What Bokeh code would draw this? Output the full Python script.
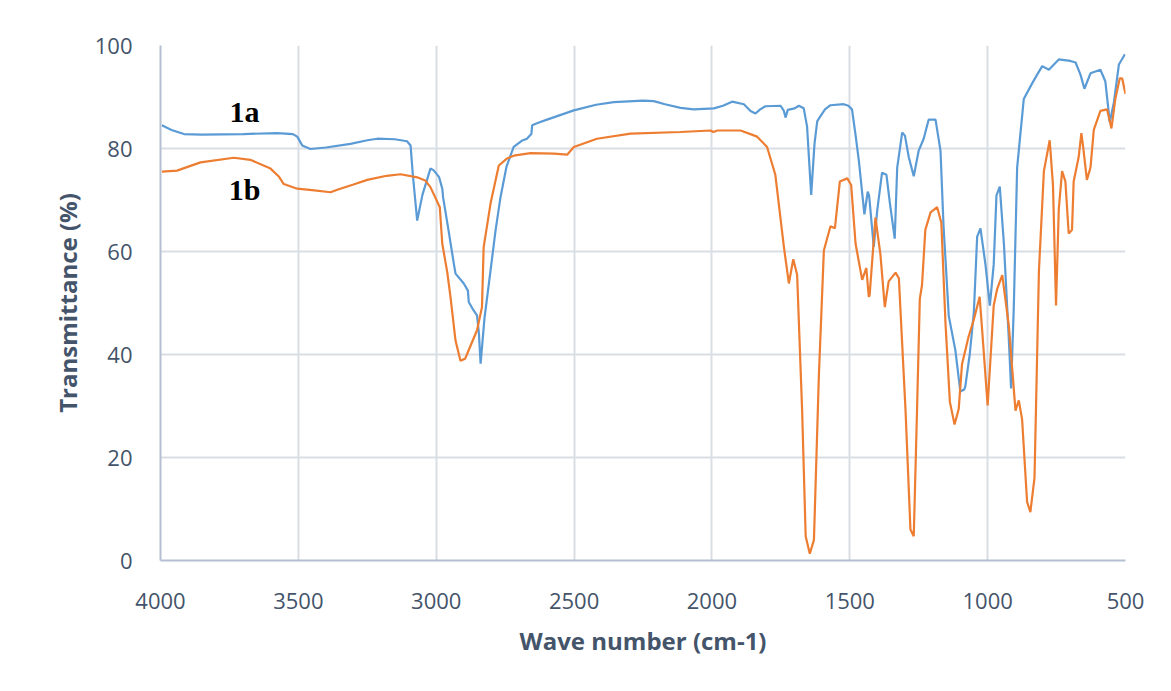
from bokeh.plotting import figure
from bokeh.models import Range1d, FixedTicker, Label
from bokeh.embed import file_html
from bokeh.resources import INLINE

# ---- data ----
wn_1a = [3995, 3960, 3915, 3850, 3700, 3577, 3520, 3504, 3486, 3456, 3400, 3311, 3250, 3214, 3150,
         3106, 3093, 3085, 3069, 3050, 3021, 3010, 2990, 2978, 2975, 2955, 2936, 2930, 2900, 2885,
         2882, 2865, 2852, 2845, 2839, 2825, 2803, 2785, 2767, 2745, 2719, 2690, 2671, 2655, 2652,
         2630, 2598, 2501, 2420, 2356, 2250, 2211, 2170, 2114, 2066, 1993, 1960, 1927, 1884, 1860,
         1842, 1825, 1806, 1751, 1739, 1733, 1725, 1700, 1685, 1667, 1655, 1640, 1628, 1618, 1590,
         1570, 1522, 1505, 1492, 1480, 1467, 1447, 1435, 1430, 1413, 1400, 1383, 1367, 1355, 1337,
         1328, 1310, 1300, 1286, 1268, 1250, 1232, 1214, 1189, 1171, 1160, 1141, 1117, 1099, 1085,
         1081, 1065, 1050, 1038, 1026, 1008, 992, 978, 968, 956, 941, 923, 915, 905, 893,
         869, 840, 821, 802, 778, 742, 700, 681, 663, 649, 627, 591, 573, 557, 542,
         524, 502]
t_1a = [84.5, 83.6, 82.8, 82.7, 82.8, 83.0, 82.8, 82.3, 80.6, 79.9, 80.2, 80.9, 81.6, 81.9, 81.8,
        81.4, 80.6, 75.0, 66.0, 71.0, 76.1, 75.8, 74.5, 72.2, 70.5, 64.0, 57.6, 55.7, 53.8, 52.4,
        50.2, 48.6, 47.6, 44.0, 38.2, 47.0, 56.3, 64.0, 70.5, 76.5, 80.3, 81.5, 81.9, 82.8, 84.5,
        85.0, 85.6, 87.4, 88.5, 89.0, 89.3, 89.2, 88.6, 87.9, 87.6, 87.8, 88.3, 89.1, 88.6, 87.3,
        86.8, 87.6, 88.2, 88.3, 87.3, 86.0, 87.5, 87.8, 88.3, 87.8, 84.3, 71.0, 80.9, 85.3, 87.6,
        88.4, 88.6, 88.3, 87.6, 83.0, 77.6, 67.2, 71.6, 70.9, 60.9, 68.2, 75.3, 74.9, 69.6, 62.5,
        76.3, 83.1, 82.5, 78.3, 74.6, 79.6, 81.9, 85.6, 85.6, 79.6, 65.0, 47.5, 40.8, 32.8, 33.2,
        33.8, 40.0, 48.2, 62.9, 64.5, 57.5, 49.5, 57.5, 70.9, 72.6, 61.5, 42.8, 33.4, 49.5, 76.3,
        89.6, 92.5, 94.3, 96.0, 95.3, 97.3, 97.0, 96.7, 94.3, 91.6, 94.6, 95.3, 93.0, 85.1, 89.0,
        96.3, 98.3]

wn_1b = [3995, 3940, 3855, 3734, 3674, 3601, 3570, 3553, 3504, 3450, 3383, 3359, 3300, 3250, 3180,
         3129, 3069, 3040, 3021, 2987, 2978, 2960, 2948, 2930, 2912, 2895, 2888, 2852, 2834, 2828,
         2803, 2773, 2745, 2719, 2658, 2573, 2525, 2501, 2417, 2295, 2114, 2005, 1995, 1980, 1896,
         1836, 1800, 1770, 1739, 1721, 1705, 1691, 1673, 1660, 1645, 1630, 1612, 1594, 1570, 1554,
         1536, 1509, 1495, 1479, 1455, 1440, 1431, 1428, 1407, 1389, 1373, 1359, 1334, 1322, 1298,
         1280, 1268, 1256, 1246, 1238, 1226, 1207, 1183, 1168, 1153, 1137, 1120, 1105, 1093, 1069,
         1050, 1029, 1020, 1000, 978, 965, 947, 923, 899, 887, 875, 857, 845, 830, 814,
         796, 775, 763, 752, 742, 730, 718, 706, 694, 688, 670, 660, 652, 640, 627,
         615, 591, 567, 551, 537, 521, 512, 500]
t_1b = [75.5, 75.7, 77.3, 78.2, 77.8, 76.1, 74.5, 73.1, 72.2, 71.9, 71.5, 72.0, 73.0, 73.9, 74.7,
        75.0, 74.4, 73.8, 72.5, 68.6, 61.5, 56.0, 51.1, 42.7, 38.8, 39.2, 40.1, 44.7, 49.2, 60.8,
        69.3, 76.7, 78.0, 78.6, 79.1, 79.0, 78.8, 80.3, 81.9, 82.9, 83.2, 83.5, 83.2, 83.5, 83.5,
        82.3, 80.3, 74.9, 60.9, 53.8, 58.5, 55.5, 29.4, 4.7, 1.3, 4.0, 36.1, 60.2, 64.9, 64.5,
        73.6, 74.2, 72.9, 61.5, 54.5, 56.8, 51.2, 51.5, 66.6, 59.5, 49.2, 54.2, 55.9, 54.8, 29.4,
        6.0, 4.7, 29.4, 50.8, 53.5, 64.2, 67.6, 68.6, 65.6, 46.2, 30.8, 26.4, 29.4, 38.1, 43.5,
        46.8, 51.2, 44.8, 30.1, 49.5, 52.8, 55.4, 45.5, 29.1, 31.1, 27.4, 11.4, 9.4, 16.1, 56.2,
        75.6, 81.6, 72.9, 49.5, 68.2, 75.6, 73.6, 63.5, 64.2, 73.6, 78.3, 83.0, 79.6, 73.9, 76.3,
        83.6, 87.3, 87.6, 83.9, 89.6, 93.6, 93.6, 90.6]

x_ticks = [4000, 3500, 3000, 2500, 2000, 1500, 1000, 500]
y_ticks = [0, 20, 40, 60, 80, 100]
series_labels = ["1a", "1b"]
label_pos = [(3695, 87.2), (3695, 72.0)]

TEXT = "#44546A"
FONT = "Open Sans"

p = figure(width=1155, height=675, output_backend="svg", toolbar_location=None,
           x_range=Range1d(4000, 500), y_range=Range1d(0, 100),
           min_border_left=160, min_border_right=30, min_border_top=45, min_border_bottom=115)
p.outline_line_color = None
p.background_fill_color = "white"
p.border_fill_color = "white"

p.line(wn_1a, t_1a, line_color="#5B9BD5", line_width=2.2)
p.line(wn_1b, t_1b, line_color="#ED7D31", line_width=2.2)

for txt, (xx, yy) in zip(series_labels, label_pos):
    p.add_layout(Label(x=xx, y=yy, text=txt, text_font="Liberation Serif", text_font_style="bold",
                       text_font_size="30px", text_color="black", text_align="center",
                       text_baseline="middle"))

for ax, ticks in ((p.xaxis[0], x_ticks), (p.yaxis[0], y_ticks)):
    ax.ticker = FixedTicker(ticks=ticks)
    ax.major_tick_line_color = None
    ax.minor_tick_line_color = None
    ax.axis_line_color = "#B4C0D2"
    ax.axis_line_width = 2
    ax.major_label_text_font = FONT
    ax.major_label_text_font_size = "22px"
    ax.major_label_text_color = TEXT
    ax.axis_label_text_font = FONT
    ax.axis_label_text_font_style = "bold"
    ax.axis_label_text_font_size = "24px"
    ax.axis_label_text_color = TEXT

p.xaxis.axis_label = "Wave number (cm-1)"
p.yaxis.axis_label = "Transmittance (%)"
p.xaxis.major_label_standoff = 26
p.yaxis.major_label_standoff = 22
p.xaxis.axis_label_standoff = 12
p.yaxis.axis_label_standoff = 8

p.grid.grid_line_color = "#D9DDE4"
p.grid.grid_line_width = 2

open("out.html", "w").write(file_html(p, INLINE))
